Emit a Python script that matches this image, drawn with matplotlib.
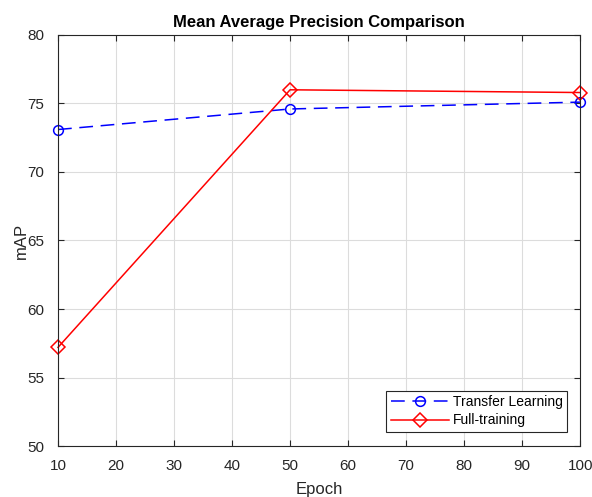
import matplotlib
matplotlib.use("Agg")
import matplotlib.pyplot as plt

plt.rcParams['font.family'] = ['Liberation Sans', 'DejaVu Sans']

# data
epochs = [10, 50, 100]
transfer_map = [73.1, 74.6, 75.1]
full_map = [57.2, 76.0, 75.8]

fig = plt.figure(figsize=(5.92, 4.97), dpi=100)
ax = fig.add_axes([0.098, 0.1026, 0.882, 0.827])

ax.plot(epochs, transfer_map, color='b', linestyle=(0, (9, 5)), linewidth=1.1,
        marker='o', markersize=7, markerfacecolor='none', markeredgewidth=1.1,
        label='Transfer Learning', clip_on=False)
ax.plot(epochs, full_map, color='r', linestyle='-', linewidth=1.1,
        marker='D', markersize=7, markerfacecolor='none', markeredgewidth=1.1,
        label='Full-training', clip_on=False)

ax.set_xlim(10, 100)
ax.set_ylim(50, 80)
ax.set_xticks(range(10, 101, 10))
ax.set_yticks(range(50, 81, 5))
ax.grid(True, color='#dcdcdc', linewidth=0.8)
ax.set_axisbelow(True)
ax.tick_params(direction='in', top=True, right=True, labelsize=11,
               colors='#262626', length=4)
ax.tick_params(axis='x', pad=9)
ax.tick_params(axis='y', pad=10)
for s in ax.spines.values():
    s.set_color('#262626')
    s.set_linewidth(0.8)

ax.set_xlabel('Epoch', fontsize=12, color='#262626', labelpad=7)
ax.set_ylabel('mAP', fontsize=12, color='#262626', labelpad=-1)
ax.set_title('Mean Average Precision Comparison', fontsize=12,
             fontweight='bold', pad=6)

leg = ax.legend(loc='lower right', fontsize=10, fancybox=False,
                framealpha=1, edgecolor='#262626', handlelength=4.2,
                borderpad=0.3, labelspacing=0.3, handletextpad=0.3,
                borderaxespad=0.0, bbox_to_anchor=(0.975, 0.035))
leg.get_frame().set_linewidth(0.8)

plt.savefig("out.png", dpi=100)
